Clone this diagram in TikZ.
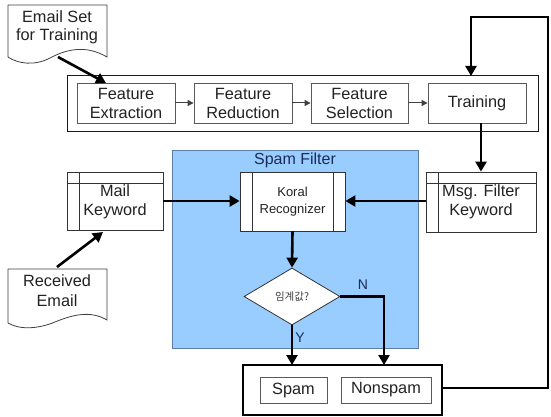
\documentclass[tikz,border=0pt]{standalone}
\usepackage{fontspec}
\setmainfont{Liberation Sans}
\newfontfamily\krfont{Noto Sans CJK KR}
\usetikzlibrary{arrows.meta,shapes.geometric}
\definecolor{sfblue}{HTML}{99CCFF}
\definecolor{sfborder}{HTML}{5E7FA8}
\definecolor{navy}{HTML}{1C2B55}
\definecolor{txt}{HTML}{222222}
\tikzset{
  bigfont/.style={font=\fontsize{16.3}{19}\selectfont, text=txt},
  fbox/.style={draw=black!65, line width=0.8pt, fill=white, inner sep=0pt, align=center, bigfont},
  thickarrow/.style={line width=2.6pt, -{Triangle[length=10pt,width=11pt]}},
  thinarrow/.style={line width=1pt, -{Triangle[length=6pt,width=6pt]}},
  docline/.style={draw=black!75, line width=0.8pt, fill=white},
}
\begin{document}
\begin{tikzpicture}[x=1pt,y=-1pt]
\useasboundingbox (0,0) rectangle (551,417);
\fill[white] (0,0) rectangle (551,417);

% Email Set document
\draw[docline] (8,5) -- (107,5) -- (107,57) .. controls (85,44) and (65,50) .. (50,58) .. controls (35,66) and (18,64) .. (8,57) -- cycle;
\node[bigfont, align=center, font=\fontsize{16.3}{18}\selectfont] (emailset) at (57,27) {Email Set\\for Training};
\coordinate (esout) at (58,57);

% Training outer box
\draw[line width=1pt, draw=black!90] (67,76) rectangle (538,131);
\coordinate (trainingtop) at (471,76);

\node[fbox, minimum width=98pt, minimum height=40pt] (fe) at (126,103) {Feature\\Extraction};
\node[fbox, minimum width=98pt, minimum height=40pt] (fr) at (243,103) {Feature\\Reduction};
\node[fbox, minimum width=97pt, minimum height=40pt] (fs) at (359.5,103) {Feature\\Selection};
\node[fbox, minimum width=98pt, minimum height=40pt] (tr) at (477,103) {Training};

\draw[thinarrow, draw=black!75] (fe) -- (fr);
\draw[thinarrow, draw=black!75] (fr) -- (fs);
\draw[thinarrow, draw=black!75] (fs) -- (tr);

\coordinate (fetop) at (106,83);
\draw[thickarrow] (esout) -- (fetop);

% Spam filter region
\draw[fill=sfblue, draw=sfborder, line width=1pt] (172,150) rectangle (418,348);
\node[font=\fontsize{16}{18}\selectfont, text=navy] (sftitle) at (295,160) {Spam Filter};

% Koral recognizer
\node[draw=black!80, line width=0.8pt, fill=white, minimum width=105pt, minimum height=59pt, inner sep=0pt, align=center, font=\fontsize{13}{17.5}\selectfont, text=txt] (koral) at (292.5,201.5) {Koral\\Recognizer};
\draw[black!80, line width=0.8pt] (252,172) -- (252,231);
\draw[black!80, line width=0.8pt] (333,172) -- (333,231);

% Mail keyword
\node[draw=black!80, line width=0.8pt, fill=white, minimum width=96pt, minimum height=58pt, inner sep=0pt] (mail) at (115,201) {};
\draw[black!80, line width=0.8pt] (79,172) -- (79,230);
\draw[black!80, line width=0.8pt] (67,183) -- (163,183);
\node[bigfont, align=center, font=\fontsize{16.3}{18.5}\selectfont] (mailtxt) at (115,202) {Mail\\Keyword};

% Msg filter keyword
\node[draw=black!80, line width=0.8pt, fill=white, minimum width=110pt, minimum height=60pt, inner sep=0pt] (msg) at (481,202) {};
\draw[black!80, line width=0.8pt] (438,172) -- (438,232);
\draw[black!80, line width=0.8pt] (426,183) -- (536,183);
\node[bigfont, align=center, font=\fontsize{16.3}{18.5}\selectfont] (msgtxt) at (481,202) {Msg. Filter\\Keyword};

% Received Email document
\draw[docline] (8,269) -- (107,269) -- (107,320) .. controls (90,310) and (72,315) .. (55,322) .. controls (38,329) and (20,330) .. (8,323) -- cycle;
\node[bigfont, align=center, font=\fontsize{16.3}{20}\selectfont] (received) at (57,291) {Received\\Email};
\coordinate (rcout) at (57,267);

% Diamond
\node[diamond, draw=black!80, line width=0.8pt, fill=white, minimum width=96pt, minimum height=57pt, inner sep=0pt, aspect=1.68, font=\krfont\fontsize{10.5}{12}\selectfont, text=black!75] (dec) at (292,296.5) {임계값?};

% Result box
\draw[line width=2.6pt] (243,365) rectangle (442,415);
\node[fbox, minimum width=67pt, minimum height=26pt] (spam) at (293.5,390) {Spam};
\node[fbox, minimum width=90pt, minimum height=26pt] (nonspam) at (386,390) {Nonspam};
\coordinate (restop1) at (292,365);
\coordinate (restop2) at (385,365);
\coordinate (resright) at (442,388);

% Connectors
\draw[thickarrow] (rcout) -- (103,232);
\draw[thickarrow] (mail.east |- 0,201) -- (koral.west |- 0,201);
\draw[thickarrow] (msg.west |- 0,201) -- (koral.east |- 0,201);
\draw[thickarrow] (tr.south -| 481,0) -- (msg.north -| 481,0);
\draw[thickarrow] (koral.south) -- (dec.north);
\draw[thickarrow] (dec.south) -- (restop1);
\draw[thickarrow] (dec.east) -- (384,296.5) -- (restop2 -| 384,0);
\draw[thickarrow] (resright) -- (548,388) -- (548,17) -- (471,17) -- (trainingtop);

\node[font=\fontsize{14}{15}\selectfont, text=navy] (nlbl) at (363,285) {N};
\node[font=\fontsize{14}{15}\selectfont, text=navy] (ylbl) at (300,338) {Y};
\end{tikzpicture}
\end{document}
